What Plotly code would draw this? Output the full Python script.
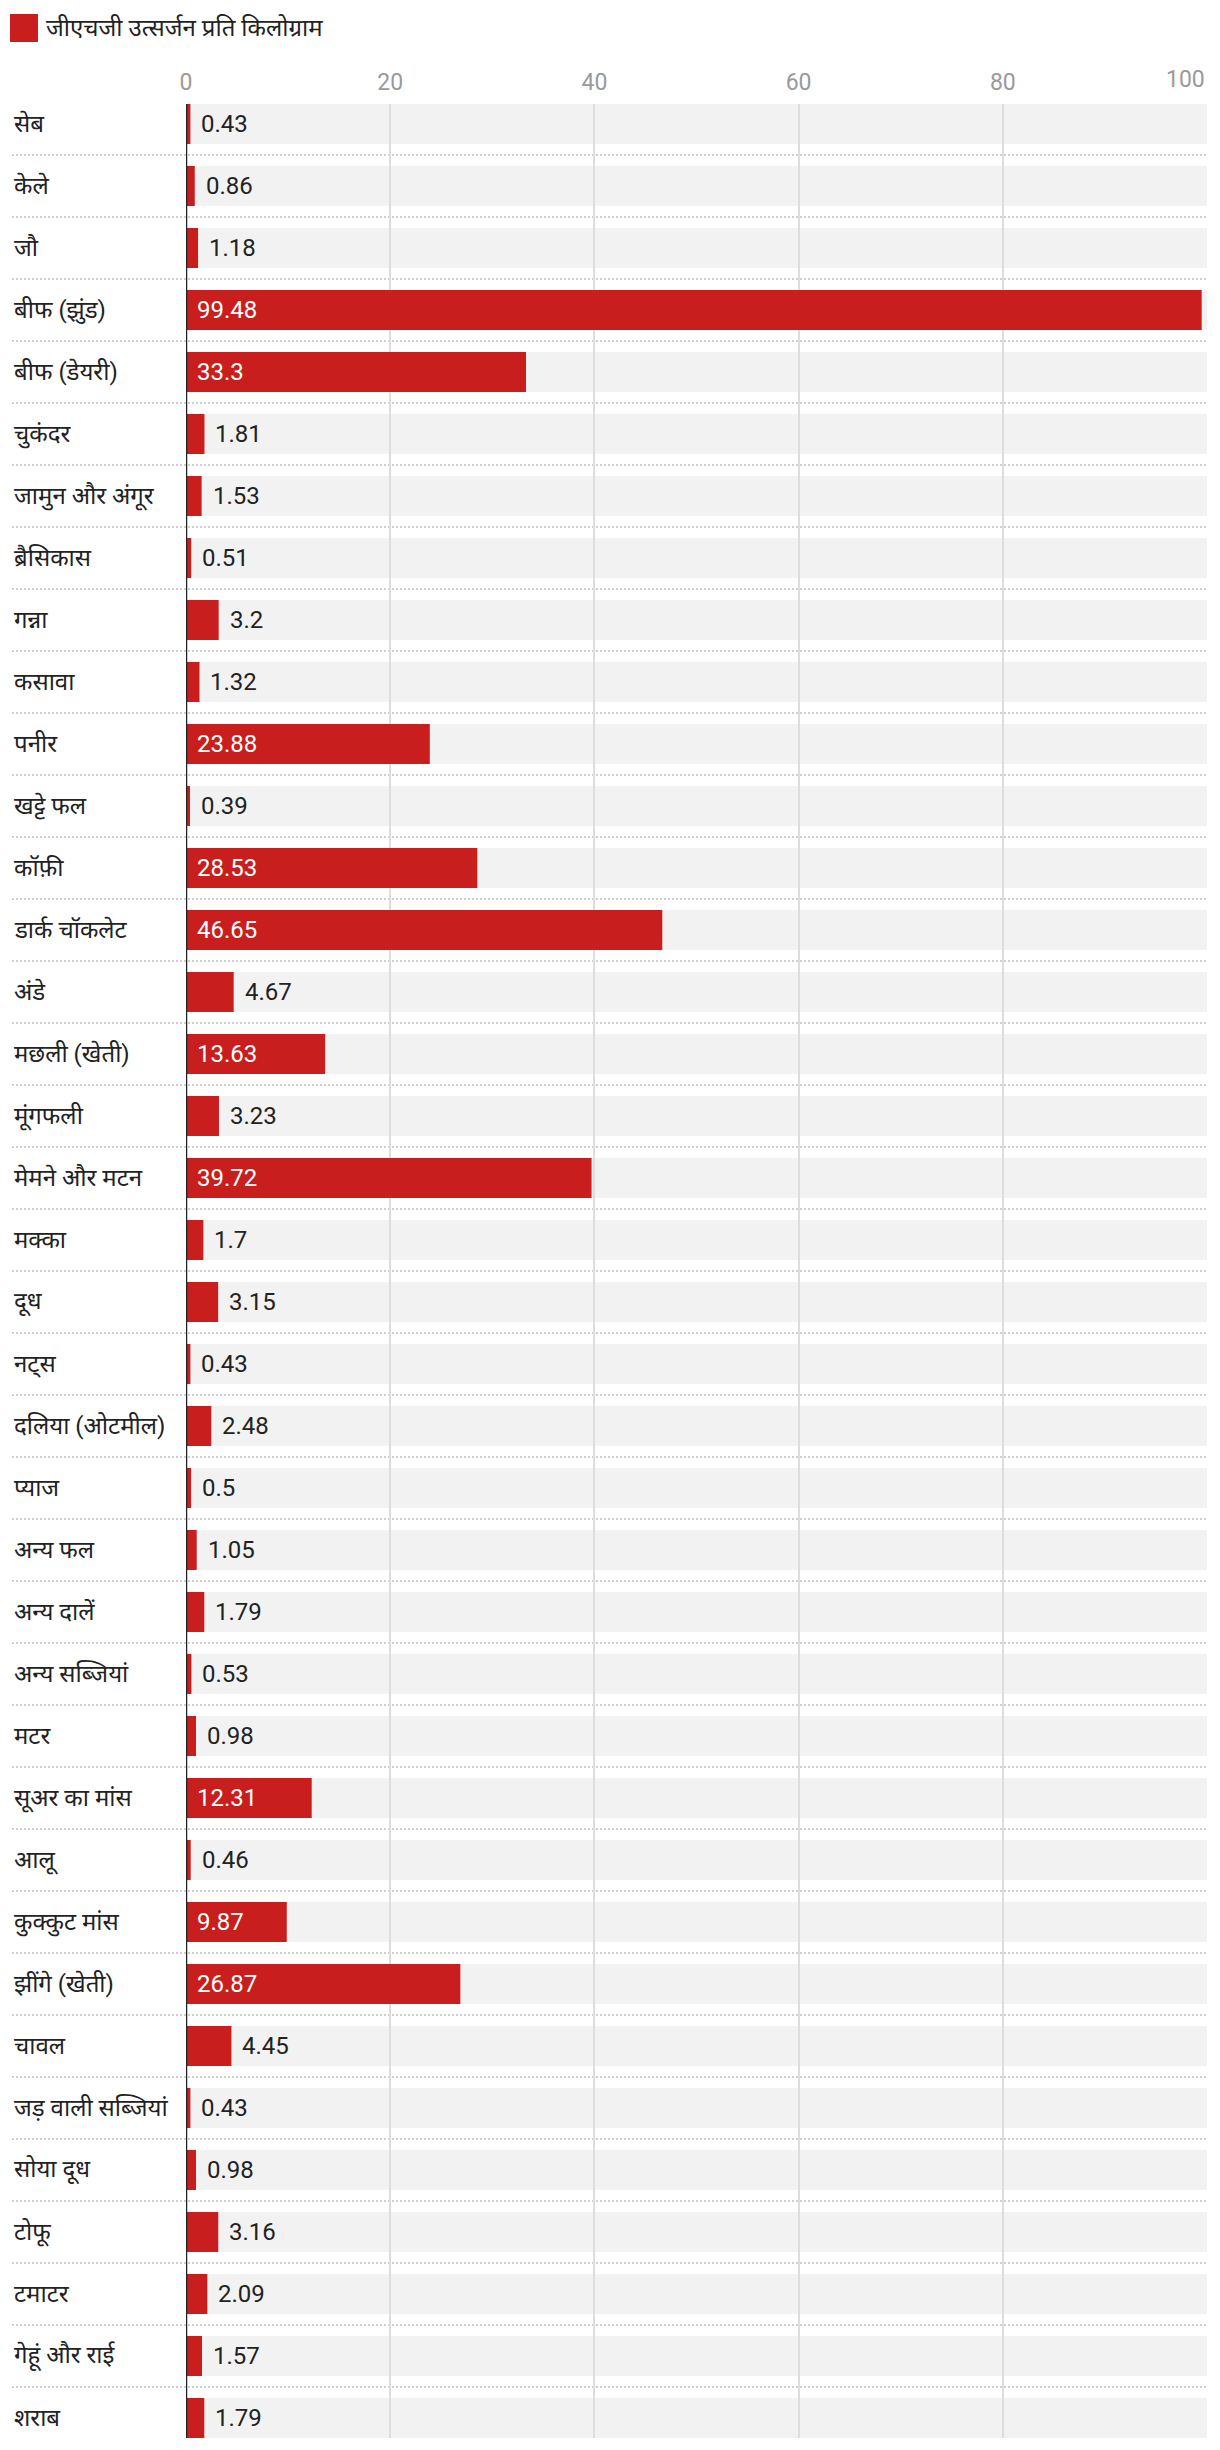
import plotly.graph_objects as go

categories = [
    "सेब", "केले", "जौ", "बीफ (झुंड)", "बीफ (डेयरी)", "चुकंदर", "जामुन और अंगूर",
    "ब्रैसिकास", "गन्ना", "कसावा", "पनीर", "खट्टे फल", "कॉफ़ी", "डार्क चॉकलेट",
    "अंडे", "मछली (खेती)", "मूंगफली", "मेमने और मटन", "मक्का", "दूध", "नट्स",
    "दलिया (ओटमील)", "प्याज", "अन्य फल", "अन्य दालें", "अन्य सब्जियां", "मटर",
    "सूअर का मांस", "आलू", "कुक्कुट मांस", "झींगे (खेती)", "चावल",
    "जड़ वाली सब्जियां", "सोया दूध", "टोफू", "टमाटर", "गेहूं और राई", "शराब",
]
values = [
    0.43, 0.86, 1.18, 99.48, 33.3, 1.81, 1.53,
    0.51, 3.2, 1.32, 23.88, 0.39, 28.53, 46.65,
    4.67, 13.63, 3.23, 39.72, 1.7, 3.15, 0.43,
    2.48, 0.5, 1.05, 1.79, 0.53, 0.98,
    12.31, 0.46, 9.87, 26.87, 4.45,
    0.43, 0.98, 3.16, 2.09, 1.57, 1.79,
]
series_name = "जीएचजी उत्सर्जन प्रति किलोग्राम"
tick_values = [0, 20, 40, 60, 80, 100]
axis_max = 100

RED = "#c81e1e"
FONT = "Roboto, 'Noto Sans', sans-serif"
W, H = 1220, 2450
ML, MR, MT, MB = 186, 13, 104, 12
PW, PH = W - ML - MR, H - MT - MB
BAR_W = 40 / 62
half = BAR_W / 2
n = len(categories)

fig = go.Figure()
fig.add_trace(go.Bar(
    y=categories, x=values, orientation="h",
    marker=dict(color=RED, line=dict(width=0)),
    width=BAR_W, name=series_name, showlegend=False, hoverinfo="x+y",
))

shapes = []
annotations = []
# background tracks
for i in range(n):
    shapes.append(dict(type="rect", xref="x", yref="y", x0=0, x1=axis_max,
                       y0=i - half, y1=i + half, fillcolor="#f2f2f2",
                       line=dict(width=0), layer="below"))
# dotted separators
lx = (12 - ML) / PW
for i in range(n - 1):
    shapes.append(dict(type="line", xref="paper", yref="y", x0=lx, x1=1,
                       y0=i + 0.5, y1=i + 0.5,
                       line=dict(color="#cfcfcf", width=2, dash="2px,2px"),
                       layer="below"))
# axis line at zero
shapes.append(dict(type="line", xref="x", yref="paper", x0=0, x1=0, y0=0, y1=1,
                   line=dict(color="#222222", width=2.5), layer="above"))
# legend swatch
shapes.append(dict(type="rect", xref="paper", yref="paper",
                   x0=(10 - ML) / PW, x1=(38 - ML) / PW,
                   y0=1 + (MT - 42) / PH, y1=1 + (MT - 14) / PH,
                   fillcolor=RED, line=dict(width=0)))
annotations.append(dict(xref="paper", yref="paper", x=(44 - ML) / PW,
                        y=1 + (MT - 28) / PH, text=series_name, showarrow=False,
                        xanchor="left", yanchor="middle",
                        font=dict(family=FONT, size=24, color="#222222")))
# category labels
for c in categories:
    annotations.append(dict(xref="paper", yref="y", x=lx, y=c, text=c,
                            showarrow=False, xanchor="left", yanchor="middle",
                            font=dict(family=FONT, size=24, color="#222222")))
# value labels
for c, v in zip(categories, values):
    inside = v >= 8
    annotations.append(dict(xref="x", yref="y", x=0 if inside else v, y=c,
                            text=str(v), showarrow=False, xanchor="left",
                            yanchor="middle", xshift=9,
                            font=dict(family=FONT, size=24,
                                      color="#ffffff" if inside else "#222222")))
# last tick label right-aligned
annotations.append(dict(xref="x", yref="paper", x=axis_max, y=1 + 24 / PH,
                        text=str(axis_max), showarrow=False, xanchor="right",
                        yanchor="middle",
                        font=dict(family=FONT, size=23, color="#9a9a9a")))

fig.update_layout(
    width=W, height=H,
    margin=dict(l=ML, r=MR, t=MT, b=MB, pad=0),
    paper_bgcolor="white", plot_bgcolor="white",
    bargap=1 - BAR_W,
    shapes=shapes, annotations=annotations,
    font=dict(family=FONT),
    xaxis=dict(side="top", range=[0, axis_max], tickvals=tick_values,
               ticktext=[str(t) if t != axis_max else "" for t in tick_values],
               showgrid=True, gridcolor="#dddddd", gridwidth=2, zeroline=False,
               ticks="outside", ticklen=4, tickcolor="rgba(0,0,0,0)",
               tickfont=dict(family=FONT, size=23, color="#9a9a9a"),
               showline=False, fixedrange=True),
    yaxis=dict(type="category", categoryorder="array", categoryarray=categories,
               range=[n - 1 + half, -half], showticklabels=False,
               showgrid=False, zeroline=False, showline=False, ticks="",
               fixedrange=True),
)

fig.write_html("out.html", config={"displayModeBar": False},
               post_script="document.body.style.margin='0';")
